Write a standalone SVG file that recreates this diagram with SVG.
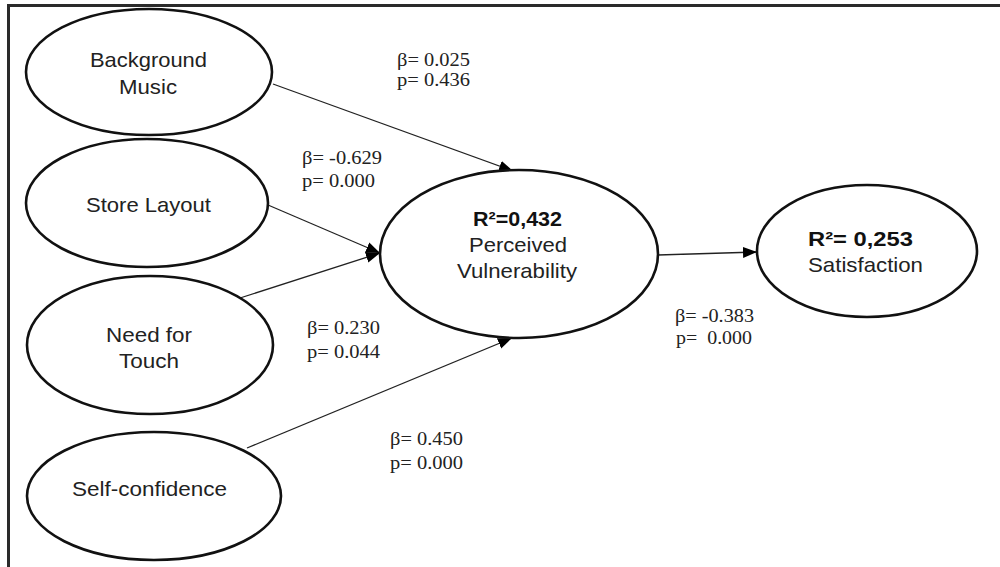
<svg xmlns="http://www.w3.org/2000/svg" width="1000" height="567" viewBox="0 0 1000 567">
<defs>
<style>
.node ellipse{fill:#fff;stroke:#111;stroke-width:2.6}
.n{font-family:"Liberation Sans",Arial,sans-serif;font-size:21px;fill:#222}
.b{font-weight:bold;font-size:20px;fill:#111}
.s{font-family:"Liberation Serif","Times New Roman",serif;font-size:19px;fill:#222}
.edge{stroke:#222;stroke-width:1.3;fill:none}
</style>
<marker id="ah" markerUnits="userSpaceOnUse" markerWidth="15" markerHeight="12" refX="14" refY="6" orient="auto">
<path d="M0,0.5 L14,6 L0,11.5 z" fill="#000"/>
</marker>
</defs>
<rect width="1000" height="567" fill="#fff"/>
<path d="M8.5,567 V5.5 H1000" fill="none" stroke="#2a2a2a" stroke-width="3"/>
<g id="connectors">
<line class="edge" x1="273" y1="84" x2="513" y2="171" marker-end="url(#ah)"/>
<line class="edge" x1="268" y1="205" x2="380" y2="253" marker-end="url(#ah)"/>
<line class="edge" x1="240" y1="298" x2="380" y2="253" marker-end="url(#ah)"/>
<line class="edge" x1="247" y1="448" x2="512" y2="338" marker-end="url(#ah)"/>
<line class="edge" x1="658" y1="255" x2="757" y2="252" marker-end="url(#ah)"/>
<text class="s" x="397" y="66" textLength="73" lengthAdjust="spacingAndGlyphs">β= 0.025</text>
<text class="s" x="397" y="86" textLength="73" lengthAdjust="spacingAndGlyphs">p= 0.436</text>
<text class="s" x="302" y="164" textLength="80" lengthAdjust="spacingAndGlyphs">β= -0.629</text>
<text class="s" x="302" y="187" textLength="73" lengthAdjust="spacingAndGlyphs">p= 0.000</text>
<text class="s" x="307" y="334" textLength="73" lengthAdjust="spacingAndGlyphs">β= 0.230</text>
<text class="s" x="307" y="358" textLength="73" lengthAdjust="spacingAndGlyphs">p= 0.044</text>
<text class="s" x="390" y="445" textLength="73" lengthAdjust="spacingAndGlyphs">β= 0.450</text>
<text class="s" x="390" y="469" textLength="73" lengthAdjust="spacingAndGlyphs">p= 0.000</text>
<text class="s" x="675" y="322" textLength="79" lengthAdjust="spacingAndGlyphs">β= -0.383</text>
<text class="s" x="676" y="344" textLength="76" lengthAdjust="spacingAndGlyphs" xml:space="preserve">p=  0.000</text>
</g>
<g id="background-music" class="node">
<ellipse cx="149" cy="72" rx="123" ry="63"/>
<text class="n" x="90" y="67" textLength="117" lengthAdjust="spacingAndGlyphs">Background</text>
<text class="n" x="119" y="94" textLength="58" lengthAdjust="spacingAndGlyphs">Music</text>
</g>
<g id="store-layout" class="node">
<ellipse cx="147" cy="203" rx="121" ry="64"/>
<text class="n" x="86" y="212" textLength="125" lengthAdjust="spacingAndGlyphs">Store Layout</text>
</g>
<g id="need-for-touch" class="node">
<ellipse cx="150" cy="345" rx="123" ry="69"/>
<text class="n" x="106" y="342" textLength="86" lengthAdjust="spacingAndGlyphs">Need for</text>
<text class="n" x="119" y="368" textLength="60" lengthAdjust="spacingAndGlyphs">Touch</text>
</g>
<g id="self-confidence" class="node">
<ellipse cx="154" cy="496" rx="127" ry="64"/>
<text class="n" x="72" y="496" textLength="155" lengthAdjust="spacingAndGlyphs">Self-confidence</text>
</g>
<g id="perceived-vulnerability" class="node">
<ellipse cx="519" cy="254" rx="139" ry="84"/>
<text class="n b" x="473" y="226" textLength="89" lengthAdjust="spacingAndGlyphs">R²=0,432</text>
<text class="n" x="469" y="252" textLength="98" lengthAdjust="spacingAndGlyphs">Perceived</text>
<text class="n" x="457" y="278" textLength="120" lengthAdjust="spacingAndGlyphs">Vulnerability</text>
</g>
<g id="satisfaction" class="node">
<ellipse cx="867" cy="251" rx="110" ry="66"/>
<text class="n b" x="808" y="246" textLength="105" lengthAdjust="spacingAndGlyphs">R²= 0,253</text>
<text class="n" x="808" y="272" textLength="115" lengthAdjust="spacingAndGlyphs">Satisfaction</text>
</g>
</svg>
